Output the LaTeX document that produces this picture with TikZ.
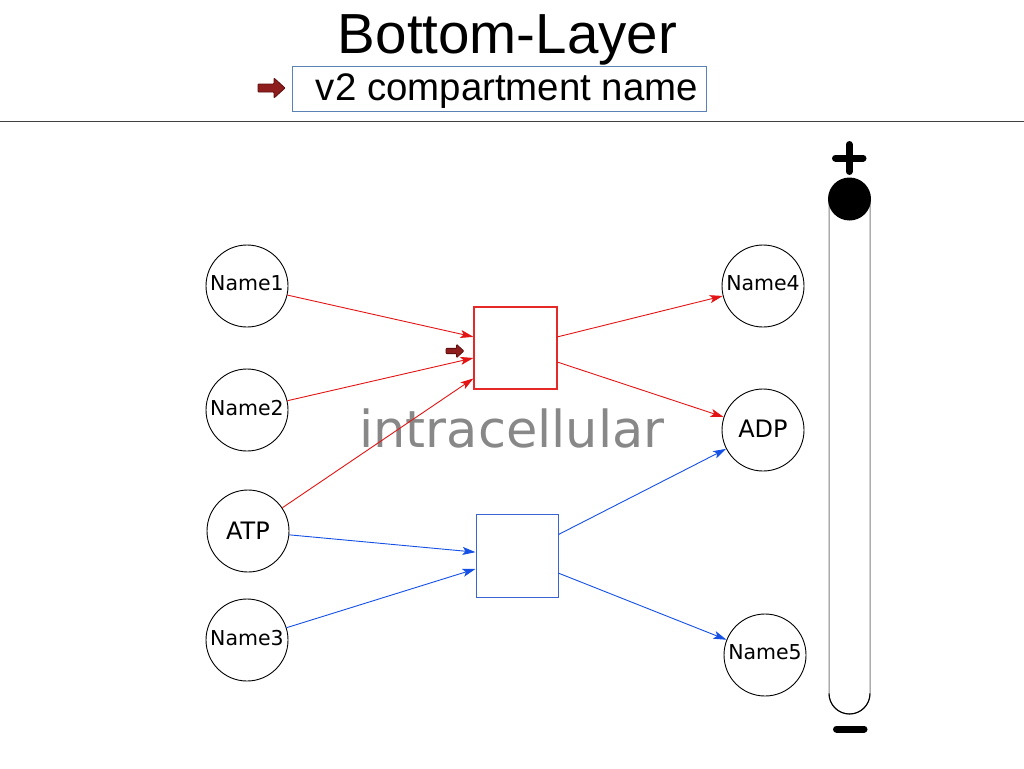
\documentclass[tikz,border=0pt]{standalone}
\usepackage{fontspec}
\setmainfont{Liberation Sans}
\newfontfamily\dvs{DejaVu Sans}
\usetikzlibrary{arrows.meta,calc}
\definecolor{edgered}{HTML}{E31414}
\definecolor{procboxred}{rgb}{0.9,0.16,0.16}
\definecolor{edgeblue}{HTML}{1450E6}
\definecolor{boxblue}{HTML}{3A64D2}
\definecolor{arrowred}{HTML}{8E1E1E}
\definecolor{arrowdark}{HTML}{5E0E0E}
\definecolor{cboxblue}{HTML}{5A82B4}
\definecolor{labelgray}{HTML}{888888}
\tikzset{
  species/.style={circle, draw=black, line width=0.9pt, minimum size=82pt, inner sep=0pt,
    text depth=5pt, font=\dvs\fontsize{20.5}{22}\selectfont},
  bigspecies/.style={species, text depth=2pt, font=\dvs\fontsize{24}{26}\selectfont},
  procred/.style={rectangle, draw=procboxred, fill=white, line width=1.1pt, minimum width=83pt, minimum height=82pt, inner sep=0pt},
  procblue/.style={rectangle, draw=boxblue, fill=white, line width=1pt, minimum width=82pt, minimum height=83pt, inner sep=0pt},
  redflow/.style={draw=edgered, line width=0.9pt, -{Stealth[length=13pt,width=8pt,inset=3pt]}},
  blueflow/.style={draw=edgeblue, line width=0.9pt, -{Stealth[length=13pt,width=8pt,inset=3pt]}},
  fatarrow/.pic={
    \filldraw[fill=arrowred, draw=arrowdark, line width=0.8pt, rounded corners=0.8pt]
      (0,-4) -- (16,-4) -- (16,-10) -- (27,0) -- (16,10) -- (16,4) -- (0,4) -- cycle;
  }
}
\begin{document}
\begin{tikzpicture}[x=1pt,y=-1pt]
\useasboundingbox (0,0) rectangle (1024,768);
\fill[white] (0,0) rectangle (1024,768);

% header
\node[anchor=base, inner sep=0pt, font=\fontsize{56.5}{60}\selectfont] (title) at (507.5,54) {Bottom-Layer};
\node[draw=cboxblue, line width=0.9pt, minimum width=414pt, minimum height=45pt, inner sep=0pt] (cbox) at (499,88.5) {};
\node[anchor=base, inner sep=0pt, font=\fontsize{38.4}{42}\selectfont] (cname) at (507,100) {v2 compartment name};
\pic at (258,88) {fatarrow};
\draw[line width=1pt, draw=black!75] (0,121) -- (1024,121);

% species
\node[species] (n1) at (247,286) {Name1};
\node[species] (n2) at (247,410) {Name2};
\node[bigspecies, text depth=0pt] (atp) at (248,531) {ATP};
\node[species] (n3) at (247,640) {Name3};
\node[species] (n4) at (763,286) {Name4};
\node[bigspecies] (adp) at (763,430) {ADP};
\node[species] (n5) at (765,655) {Name5};

% processes
\node[procred] (rb) at (515.5,348) {};
\node[procblue] (bb) at (517,555.5) {};

% compartment label
\node[anchor=base, inner sep=0pt, text=labelgray, font=\dvs\fontsize{51}{55}\selectfont] (comp) at (512,447) {intracellular};

% red reaction
\draw[redflow] (n1) -- ($(rb.north west)!0.366!(rb.south west)$);
\draw[redflow] (n2) -- ($(rb.north west)!0.62!(rb.south west)$);
\draw[redflow] (atp) -- ($(rb.north west)!0.866!(rb.south west)$);
\draw[redflow] ($(rb.north east)!0.366!(rb.south east)$) -- (n4);
\draw[redflow] ($(rb.north east)!0.67!(rb.south east)$) -- (adp);
\pic[scale=0.66] at (446,351) {fatarrow};

% blue reaction
\draw[blueflow] (atp) -- ($(bb.north west)!0.46!(bb.south west)$);
\draw[blueflow] (n3) -- ($(bb.north west)!0.66!(bb.south west)$);
\draw[blueflow] ($(bb.north east)!0.25!(bb.south east)$) -- (adp);
\draw[blueflow] ($(bb.north east)!0.71!(bb.south east)$) -- (n5);

% slider
\draw[draw=black!50, line width=1pt, rounded corners=20.5pt] (829,180) rectangle (870,714);
\draw[black, line width=1.1pt] (829,693.5) arc[start angle=180, end angle=0, radius=20.5];
\fill[black] (849.5,199) circle[radius=21.5];
\draw[black, line width=7pt, line cap=round] (835.5,158) -- (863,158) (849.3,144.5) -- (849.3,171.5);
\draw[black, line width=7pt, line cap=round] (836.5,729) -- (864,729);
\end{tikzpicture}
\end{document}
